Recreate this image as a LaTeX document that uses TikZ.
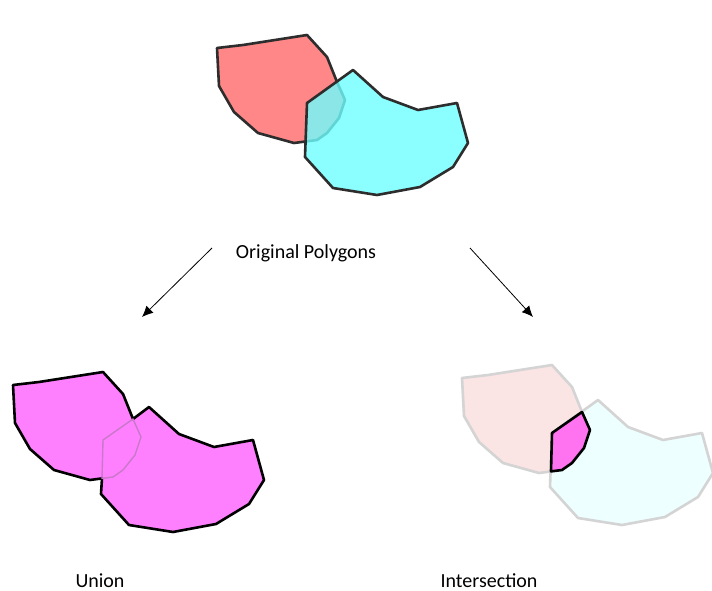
\documentclass[tikz,border=0pt]{standalone}
\usepackage{fontspec}
\setmainfont{Carlito}
\usetikzlibrary{arrows.meta}
\begin{document}
\begin{tikzpicture}[x=1pt,y=-1pt,
  outline/.style={line width=2.6pt,line join=round},
  lbl/.style={font=\fontsize{20}{24}\selectfont,inner sep=0pt,anchor=base},
  arr/.style={line width=0.8pt,-{Latex[length=11pt,width=10pt]}},
  redpoly/.pic={\path[pic actions] (217,48) -- (243,45) -- (307,35) -- (327,57) -- (337,82) -- (345,100) -- (339,118) -- (327,133) -- (317,140) -- (294,143) -- (258,133) -- (234,112) -- (219,86) -- cycle;},
  cyanpoly/.pic={\path[pic actions] (307,103) -- (353,70) -- (383,97) -- (418,110) -- (457,103) -- (468,143) -- (453,167) -- (420,187) -- (377,195) -- (333,188) -- (305,157) -- cycle;},
  interpoly/.pic={\path[pic actions] (307,103) -- (337,82) -- (345,100) -- (339,118) -- (327,133) -- (317,140) -- (306,141.4) -- cycle;},
  unionpoly/.pic={\path[pic actions] (337,82) -- (327,57) -- (307,35) -- (243,45) -- (217,48) -- (219,86) -- (234,112) -- (258,133) -- (294,143) -- (306,141.4) -- (305,157) -- (333,188) -- (377,195) -- (420,187) -- (453,167) -- (468,143) -- (457,103) -- (418,110) -- (383,97) -- (353,70) -- cycle;}
]
\definecolor{redfill}{RGB}{255,135,135}
\definecolor{cyanfill}{RGB}{110,255,255}
\definecolor{edge}{RGB}{45,45,45}
\definecolor{magfill}{RGB}{255,128,255}
\definecolor{faintline}{RGB}{200,120,200}
\definecolor{fadered}{RGB}{251,228,228}
\definecolor{fadecyan}{RGB}{235,255,255}
\definecolor{fadeedge}{RGB}{212,212,212}
\definecolor{interfill}{RGB}{255,115,240}
\useasboundingbox (0,0) rectangle (712,591);
\fill[white] (0,0) rectangle (712,591);
% original polygons
\pic[fill=redfill,draw=edge,outline] {redpoly};
\pic[fill=cyanfill,fill opacity=0.8,draw=edge,outline,draw opacity=1] {cyanpoly};
% union
\begin{scope}[shift={(-204,337)}]
  \pic[fill=magfill,draw=black,outline] {unionpoly};
  \pic[draw=faintline,line width=1.4pt,line join=round] {interpoly};
\end{scope}
% intersection
\begin{scope}[shift={(245,330)}]
  \pic[fill=fadered,draw=fadeedge,outline] {redpoly};
  \pic[fill=fadecyan,fill opacity=0.85,draw=fadeedge,outline] {cyanpoly};
  \pic[fill=interfill,draw=black,outline] {interpoly};
\end{scope}
% labels
\node[lbl] (orig) at (306,258) {Original Polygons};
\node[lbl,text depth=0pt] (union) at (100,587) {Union};
\node[lbl,text depth=0pt] (inter) at (489,587) {Intersection};
% arrows
\coordinate (la) at (212,248);
\coordinate (lb) at (142,317);
\coordinate (ra) at (470,248);
\coordinate (rb) at (533,317);
\draw[arr] (la) -- (lb);
\draw[arr] (ra) -- (rb);
\end{tikzpicture}
\end{document}
